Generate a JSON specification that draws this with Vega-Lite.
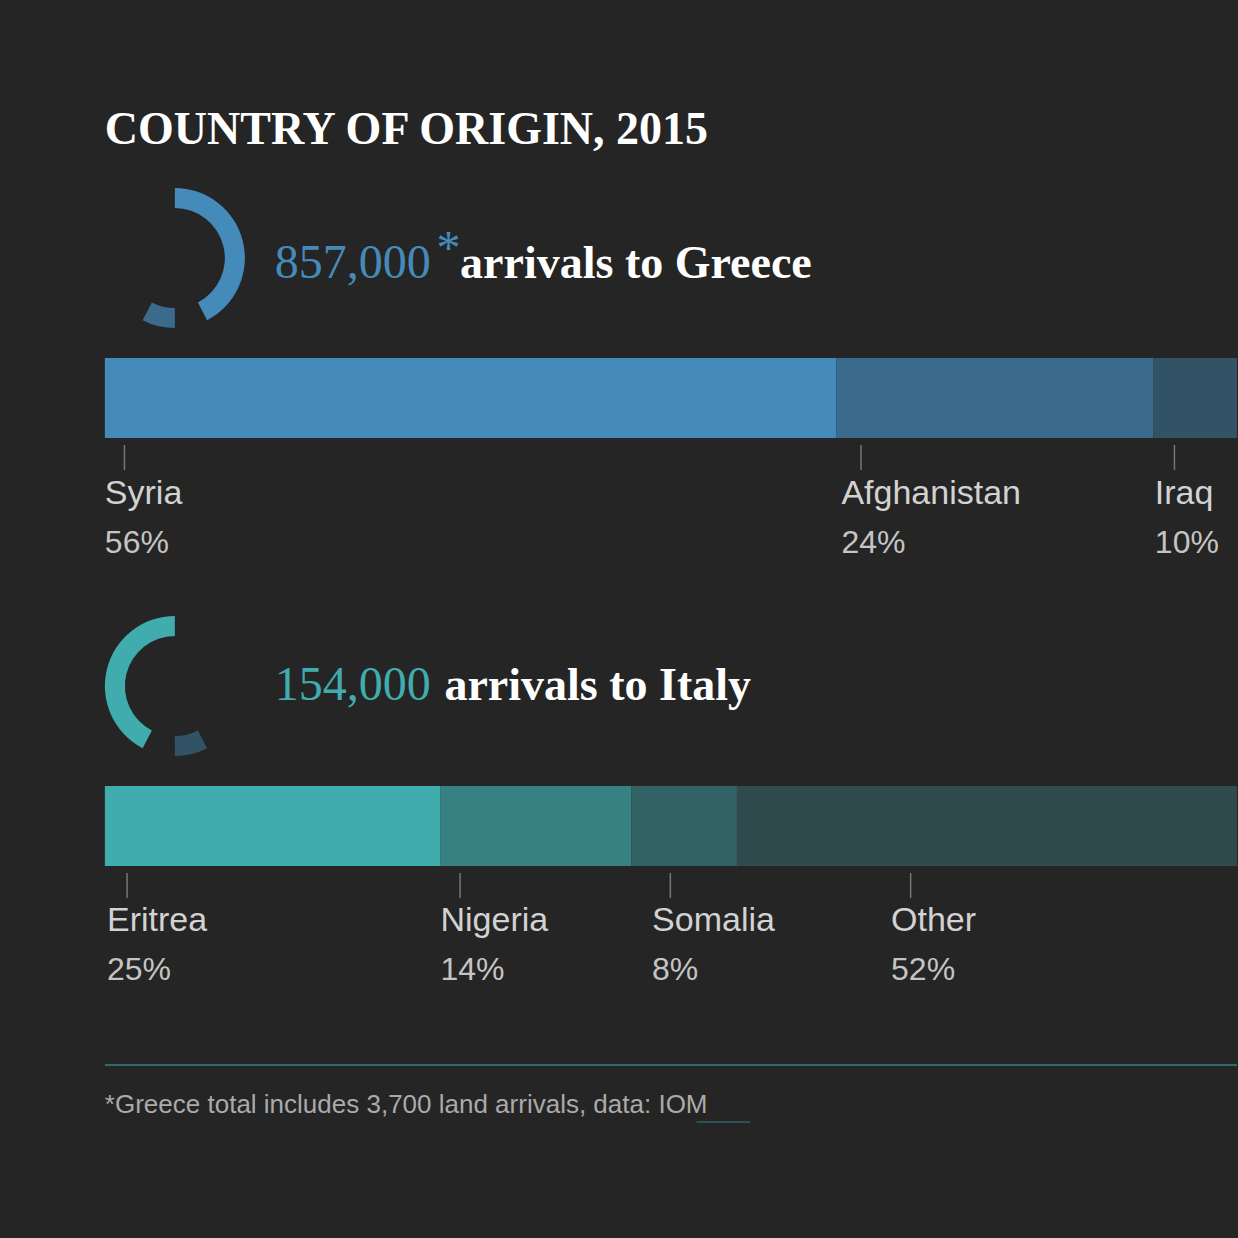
{
  "$schema": "https://vega.github.io/schema/vega-lite/v6.json",
  "width": 1238,
  "height": 1238,
  "autosize": {"type": "fit", "contains": "padding"},
  "padding": 0,
  "background": "#252525",
  "config": {"view": {"stroke": null}, "font": "Liberation Sans"},
  "datasets": {
    "bars": [
      {"country": "Syria", "group": "Greece", "start": 0, "end": 56, "pct": "56%", "labelAt": 0, "tickAt": 1.5, "y0": 358, "y1": 438, "ty0": 445, "ty1": 470, "nameY": 494, "pctY": 543},
      {"country": "Afghanistan", "group": "Greece", "start": 56, "end": 80.3, "pct": "24%", "labelAt": 56.4, "tickAt": 57.9, "y0": 358, "y1": 438, "ty0": 445, "ty1": 470, "nameY": 494, "pctY": 543},
      {"country": "Iraq", "group": "Greece", "start": 80.3, "end": 90, "pct": "10%", "labelAt": 80.4, "tickAt": 81.9, "y0": 358, "y1": 438, "ty0": 445, "ty1": 470, "nameY": 494, "pctY": 543},
      {"country": "Eritrea", "group": "Italy", "start": 0, "end": 25.7, "pct": "25%", "labelAt": 0.16, "tickAt": 1.7, "y0": 786, "y1": 866, "ty0": 873, "ty1": 898, "nameY": 921, "pctY": 970},
      {"country": "Nigeria", "group": "Italy", "start": 25.7, "end": 40.3, "pct": "14%", "labelAt": 25.7, "tickAt": 27.2, "y0": 786, "y1": 866, "ty0": 873, "ty1": 898, "nameY": 921, "pctY": 970},
      {"country": "Somalia", "group": "Italy", "start": 40.3, "end": 48.4, "pct": "8%", "labelAt": 41.9, "tickAt": 43.3, "y0": 786, "y1": 866, "ty0": 873, "ty1": 898, "nameY": 921, "pctY": 970},
      {"country": "Other", "group": "Italy", "start": 48.4, "end": 100, "pct": "52%", "labelAt": 60.2, "tickAt": 61.7, "y0": 786, "y1": 866, "ty0": 873, "ty1": 898, "nameY": 921, "pctY": 970}
    ],
    "donuts": [
      {"part": "Greece", "value": 857, "order": 1, "cx": 5.36, "cy": 258},
      {"part": "GreeceRest", "value": 154, "order": 2, "cx": 5.36, "cy": 258},
      {"part": "Italy", "value": 154, "order": 1, "cx": 5.36, "cy": 686},
      {"part": "ItalyRest", "value": 857, "order": 2, "cx": 5.36, "cy": 686}
    ],
    "texts": [
      {"kind": "title", "text": "COUNTRY OF ORIGIN, 2015", "x": 0, "y": 130},
      {"kind": "numG", "text": "857,000", "x": 13.0, "y": 264},
      {"kind": "star", "text": "*", "x": 25.4, "y": 250},
      {"kind": "rest", "text": "arrivals to Greece", "x": 27.2, "y": 264},
      {"kind": "numI", "text": "154,000", "x": 13.0, "y": 686},
      {"kind": "rest", "text": "arrivals to Italy", "x": 26.0, "y": 686},
      {"kind": "foot", "text": "*Greece total includes 3,700 land arrivals, data: IOM", "x": 0, "y": 1105}
    ],
    "lines": [
      {"x": 0, "x2": 86.69, "y": 1065, "kind": "sep"},
      {"x": 45.3, "x2": 49.4, "y": 1122, "kind": "under"}
    ]
  },
  "encoding": {
    "x": {"type": "quantitative", "scale": {"domain": [-8.03, 86.69]}, "axis": null},
    "y": {"type": "quantitative", "scale": {"domain": [0, 1238], "reverse": true}, "axis": null}
  },
  "layer": [
    {
      "data": {"name": "bars"},
      "mark": {"type": "rect", "clip": true},
      "encoding": {
        "x": {"field": "start", "type": "quantitative"},
        "x2": {"field": "end"},
        "y": {"field": "y0", "type": "quantitative"},
        "y2": {"field": "y1"},
        "color": {"field": "country", "type": "nominal", "legend": null,
          "scale": {"domain": ["Syria", "Afghanistan", "Iraq", "Eritrea", "Nigeria", "Somalia", "Other"],
                    "range": ["#458bba", "#3a6a8c", "#325266", "#40acad", "#378182", "#326263", "#2f4b4d"]}}
      }
    },
    {
      "data": {"name": "bars"},
      "mark": {"type": "rule", "color": "#777", "strokeWidth": 1.5},
      "encoding": {
        "x": {"field": "tickAt", "type": "quantitative"},
        "y": {"field": "ty0", "type": "quantitative"},
        "y2": {"field": "ty1"}
      }
    },
    {
      "data": {"name": "bars"},
      "mark": {"type": "text", "align": "left", "baseline": "middle", "fontSize": 34, "color": "#d2d2d2"},
      "encoding": {
        "x": {"field": "labelAt", "type": "quantitative"},
        "y": {"field": "nameY", "type": "quantitative"},
        "text": {"field": "country"}
      }
    },
    {
      "data": {"name": "bars"},
      "mark": {"type": "text", "align": "left", "baseline": "middle", "fontSize": 32, "color": "#c4c4c4"},
      "encoding": {
        "x": {"field": "labelAt", "type": "quantitative"},
        "y": {"field": "pctY", "type": "quantitative"},
        "text": {"field": "pct"}
      }
    },
    {
      "data": {"name": "donuts"},
      "mark": {"type": "arc", "outerRadius": 70, "innerRadius": 50},
      "encoding": {
        "x": {"field": "cx", "type": "quantitative"},
        "y": {"field": "cy", "type": "quantitative"},
        "theta": {"field": "value", "type": "quantitative", "stack": true},
        "order": {"field": "order"},
        "color": {"field": "part", "type": "nominal", "legend": null,
          "scale": {"domain": ["Greece", "GreeceRest", "Italy", "ItalyRest"],
                    "range": ["#458bba", "#3a3a3a", "#40acad", "#3a3a3a"]}}
      }
    },
    {
      "data": {"name": "lines"},
      "mark": {"type": "rule", "color": "#555", "strokeWidth": 1.5},
      "encoding": {
        "x": {"field": "x", "type": "quantitative"},
        "x2": {"field": "x2"},
        "y": {"field": "y", "type": "quantitative"},
        "color": {"field": "kind", "type": "nominal", "legend": null,
          "scale": {"domain": ["sep", "under"], "range": ["#4a4a4a", "#aaaaaa"]}}
      }
    },
    {
      "data": {"name": "texts"},
      "transform": [{"filter": "datum.kind == 'title'"}],
      "mark": {"type": "text", "align": "left", "baseline": "middle", "font": "Liberation Sans Narrow", "fontWeight": "bold", "fontSize": 46, "color": "#ffffff"},
      "encoding": {"x": {"field": "x", "type": "quantitative"}, "y": {"field": "y", "type": "quantitative"}, "text": {"field": "text"}}
    },
    {
      "data": {"name": "texts"},
      "transform": [{"filter": "datum.kind == 'rest'"}],
      "mark": {"type": "text", "align": "left", "baseline": "middle", "font": "Liberation Sans Narrow", "fontWeight": "bold", "fontSize": 46, "color": "#ffffff"},
      "encoding": {"x": {"field": "x", "type": "quantitative"}, "y": {"field": "y", "type": "quantitative"}, "text": {"field": "text"}}
    },
    {
      "data": {"name": "texts"},
      "transform": [{"filter": "datum.kind == 'numG' || datum.kind == 'star'"}],
      "mark": {"type": "text", "align": "left", "baseline": "middle", "font": "Liberation Sans Narrow", "fontSize": 48, "color": "#458bba"},
      "encoding": {"x": {"field": "x", "type": "quantitative"}, "y": {"field": "y", "type": "quantitative"}, "text": {"field": "text"}}
    },
    {
      "data": {"name": "texts"},
      "transform": [{"filter": "datum.kind == 'numI'"}],
      "mark": {"type": "text", "align": "left", "baseline": "middle", "font": "Liberation Sans Narrow", "fontSize": 48, "color": "#40acad"},
      "encoding": {"x": {"field": "x", "type": "quantitative"}, "y": {"field": "y", "type": "quantitative"}, "text": {"field": "text"}}
    },
    {
      "data": {"name": "texts"},
      "transform": [{"filter": "datum.kind == 'foot'"}],
      "mark": {"type": "text", "align": "left", "baseline": "middle", "fontSize": 26, "color": "#aaaaaa"},
      "encoding": {"x": {"field": "x", "type": "quantitative"}, "y": {"field": "y", "type": "quantitative"}, "text": {"field": "text"}}
    }
  ]
}
